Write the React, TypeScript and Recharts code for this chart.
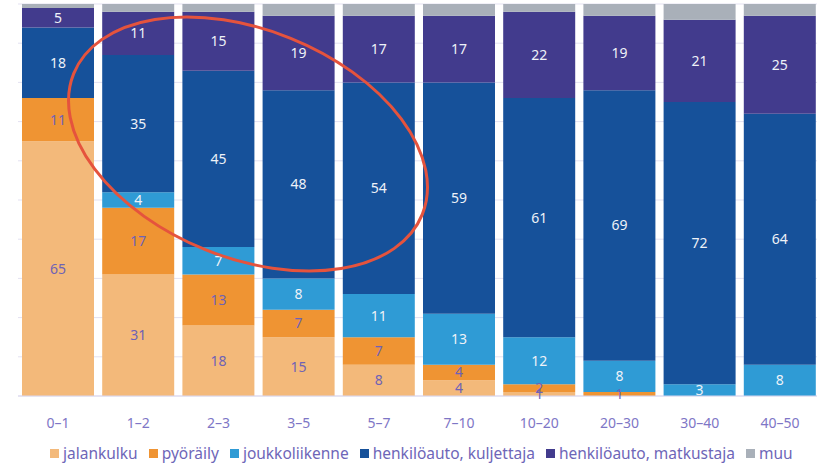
import { BarChart, Bar, XAxis, YAxis, CartesianGrid, LabelList } from 'recharts';

const categories = ['0–1', '1–2', '2–3', '3–5', '5–7', '7–10', '10–20', '20–30', '30–40', '40–50'];
const jalankulku = [65, 31, 18, 15, 8, 4, 1, 0, 0, 0];
const pyoraily = [11, 17, 13, 7, 7, 4, 2, 1, 0, 0];
const joukkoliikenne = [0, 4, 7, 8, 11, 13, 12, 8, 3, 8];
const kuljettaja = [18, 35, 45, 48, 54, 59, 61, 69, 72, 64];
const matkustaja = [5, 11, 15, 19, 17, 17, 22, 19, 21, 25];
const muu = [1, 2, 2, 3, 3, 3, 2, 3, 4, 3];

const seriesNames = ['jalankulku', 'pyöräily', 'joukkoliikenne', 'henkilöauto, kuljettaja', 'henkilöauto, matkustaja', 'muu'];
const seriesValues = [jalankulku, pyoraily, joukkoliikenne, kuljettaja, matkustaja, muu];

const COLORS = ['#F3B97A', '#EF9433', '#2F9BD5', '#16519A', '#423B8D', '#A9B0B9'];
const LABEL_COLORS = ['#6E62B6', '#6E62B6', '#EEF2F8', '#EEF2F8', '#EEF2F8', null];
const FONT = '"Noto Sans", sans-serif';

const data = categories.map((name, i) => {
  const row: Record<string, string | number> = { name };
  seriesValues.forEach((vals, s) => { row[`s${s}`] = vals[i]; });
  return row;
});

export default function App() {
  return (
    <div style={{ position: 'absolute', left: 0, top: 0, width: 817, height: 465, overflow: 'hidden', background: '#fff', fontFamily: FONT }}>
      <BarChart width={830} height={465} data={data} margin={{ top: 4, right: 10, left: 18, bottom: 39 }} barCategoryGap={4}>
        <CartesianGrid vertical={false} stroke="#E3E1F1" />
        <YAxis hide domain={[0, 100]} ticks={[0, 10, 20, 30, 40, 50, 60, 70, 80, 90, 100]} />
        <XAxis
          dataKey="name"
          height={30}
          axisLine={{ stroke: '#DAD7EE' }}
          tickLine={false}
          tickSize={0}
          tickMargin={22}
          tick={{ fill: '#7E76C6', fontSize: 14, fontFamily: FONT }}
        />
        {seriesNames.map((n, s) => (
          <Bar key={n} dataKey={`s${s}`} name={n} stackId="a" fill={COLORS[s]} isAnimationActive={false}>
            {LABEL_COLORS[s] && (
              <LabelList dataKey={`s${s}`} position="center" fill={LABEL_COLORS[s] as string} fontSize={14} fontFamily={FONT} />
            )}
          </Bar>
        ))}
      </BarChart>

      {/* legend */}
      <div style={{ position: 'absolute', left: 50, top: 445, height: 17, display: 'flex', gap: 11, alignItems: 'center', fontSize: 15.5, lineHeight: '17px', color: '#6E66B8', whiteSpace: 'nowrap' }}>
        {seriesNames.map((n, s) => (
          <span key={n} style={{ display: 'flex', alignItems: 'center', gap: 4 }}>
            <span style={{ width: 9, height: 9, background: COLORS[s], display: 'inline-block' }} />
            {n}
          </span>
        ))}
      </div>

      {/* red highlight ellipse */}
      <svg width={817} height={465} style={{ position: 'absolute', left: 0, top: 0, pointerEvents: 'none' }}>
        <ellipse cx={248} cy={144} rx={188} ry={114} transform="rotate(22 248 144)" fill="none" stroke="#E5533D" strokeWidth={3} />
      </svg>
    </div>
  );
}
